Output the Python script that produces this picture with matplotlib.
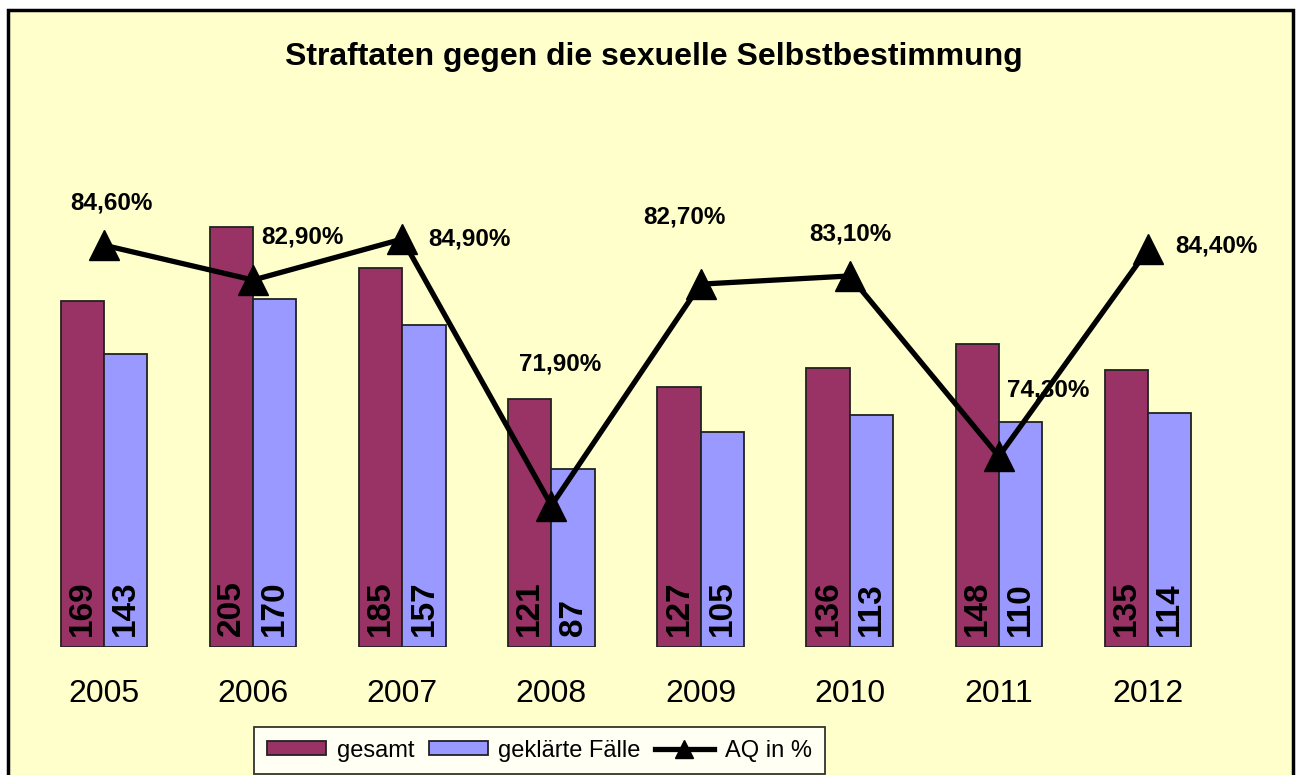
import matplotlib.pyplot as plt
from matplotlib.patches import Rectangle
import numpy as np

plt.rcParams['font.family'] = ['Liberation Sans', 'DejaVu Sans']

years = ["2005", "2006", "2007", "2008", "2009", "2010", "2011", "2012"]
gesamt = [169, 205, 185, 121, 127, 136, 148, 135]
geklaert = [143, 170, 157, 87, 105, 113, 110, 114]
aq = [84.6, 82.9, 84.9, 71.9, 82.7, 83.1, 74.3, 84.4]
aq_labels = ["84,60%", "82,90%", "84,90%", "71,90%", "82,70%", "83,10%", "74,30%", "84,40%"]

# label offsets in pixels (dx, dy) from each marker
label_offsets = [(7, 42), (49, 43), (67, 0), (9, 142), (-16, 67), (1, 42), (49, 66), (68, 3)]

W, H = 1297, 775
fig = plt.figure(figsize=(W / 100, H / 100), dpi=100, facecolor="white")

# chart area background with border
fig.patches.append(Rectangle((8 / W, -0.02), (1293 - 8) / W, 1 - 10 / H + 0.02,
                             transform=fig.transFigure, facecolor="#FFFFCC",
                             edgecolor="black", linewidth=2.5, zorder=-10))

ax = fig.add_axes([29.4 / W, 1 - 647 / H, 1193.2 / W, (647 - 134.5) / H])
ax.set_facecolor("none")
x = np.arange(len(years))
bw = 0.29

b1 = ax.bar(x - bw / 2, gesamt, bw, color="#993366", edgecolor="#222222", linewidth=1.3, label="gesamt")
b2 = ax.bar(x + bw / 2, geklaert, bw, color="#9999FF", edgecolor="#222222", linewidth=1.3, label="geklärte Fälle")

for bars, vals in ((b1, gesamt), (b2, geklaert)):
    for r, v in zip(bars, vals):
        ax.annotate(str(v), (r.get_x() + r.get_width() / 2, 0), xytext=(0, 11),
                    textcoords="offset pixels", rotation=90, ha="center", va="bottom",
                    fontsize=24, fontweight="bold", color="black")

ax.set_xlim(-0.5, len(years) - 0.5)
ax.set_ylim(0, 250)
ax.set_xticks(x)
ax.set_xticklabels(years, fontsize=23)
ax.tick_params(axis="x", length=0, pad=23)
ax.set_yticks([])
for s in ax.spines.values():
    s.set_visible(False)

ax2 = ax.twinx()
ax2.set_ylim(65, 90)
ax2.set_yticks([])
for s in ax2.spines.values():
    s.set_visible(False)
ln, = ax2.plot(x, aq, color="black", linewidth=3.8, marker="^", markersize=21, label="AQ in %")
for xi, yi, t, (dx, dy) in zip(x, aq, aq_labels, label_offsets):
    ax2.annotate(t, (xi, yi), xytext=(dx, dy), textcoords="offset pixels",
                 ha="center", va="center", fontsize=17.5, fontweight="bold")

fig.text(654 / W, 1 - 57 / H, "Straftaten gegen die sexuelle Selbstbestimmung",
         ha="center", va="center", fontsize=23, fontweight="bold")

leg = fig.legend(handles=[b1, b2, ln], loc="center", bbox_to_anchor=(539.5 / W, 1 - 750.5 / H),
                 ncol=3, fontsize=17, frameon=True, fancybox=False, edgecolor="black",
                 handlelength=2.5, handleheight=0.55, handletextpad=0.45, columnspacing=0.6,
                 borderpad=0.55, borderaxespad=0, markerscale=0.6)
leg.get_frame().set_linewidth(1.3)

fig.savefig("out.png", dpi=100, facecolor="white")
